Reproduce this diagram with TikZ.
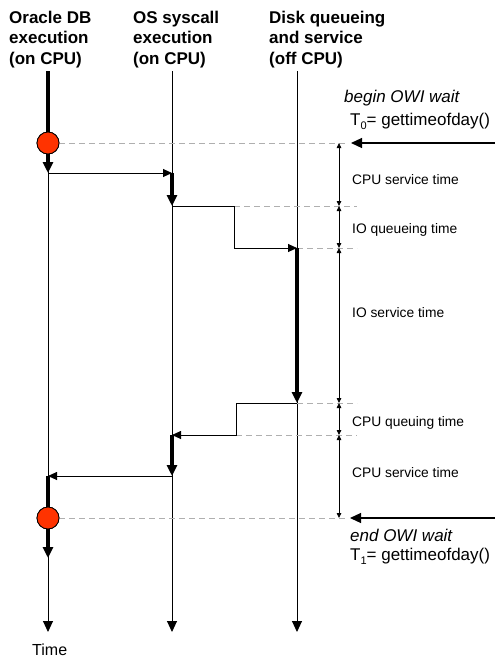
\documentclass[tikz,border=0pt]{standalone}
\usepackage{fontspec}
\setmainfont{Liberation Sans}
\usetikzlibrary{arrows.meta}
\definecolor{dotred}{RGB}{255,51,0}
\definecolor{dashgray}{RGB}{175,175,175}
\newcommand{\lowsub}[1]{\raisebox{-0.45ex}{\fontsize{11}{11}\selectfont #1}}
\begin{document}
\begin{tikzpicture}[x=1pt,y=-1pt,
  thinln/.style={line width=0.9pt, black},
  thickln/.style={line width=3.6pt, black},
  bighead/.style={-{Triangle[length=11pt,width=10pt]}},
  midhead/.style={-{Triangle[length=9pt,width=8pt]}},
  dimln/.style={line width=0.8pt, {Triangle[length=5pt,width=4.5pt]}-{Triangle[length=5pt,width=4.5pt]}},
  guide/.style={line width=0.9pt, dashgray, dash pattern=on 6pt off 4pt},
  heading/.style={font=\fontsize{17}{20.7}\selectfont\bfseries, align=left, anchor=base west, inner sep=0pt},
  bigtxt/.style={font=\fontsize{17}{20}\selectfont, anchor=base west, inner sep=0pt},
  smalltxt/.style={font=\fontsize{13.8}{16}\selectfont, anchor=base west, inner sep=0pt},
  event/.style={circle, draw=black, line width=0.8pt, fill=dotred, minimum size=22pt, inner sep=0pt}
]
\useasboundingbox (0,0) rectangle (495,659);

% headings (base anchor sits on the last line)
\node[heading] (hA) at (9,64.4) {Oracle DB\\execution\\(on CPU)};
\node[heading] (hB) at (133,64.4) {OS syscall\\execution\\(on CPU)};
\node[heading] (hC) at (269,64.4) {Disk queueing\\and service\\(off CPU)};

% lane coordinates
\coordinate (Atop) at (48,71);   \coordinate (Abot) at (48,632);
\coordinate (Btop) at (172,71);  \coordinate (Bbot) at (172,632);
\coordinate (Ctop) at (297,71);  \coordinate (Cbot) at (297,632);

% thin time lines
\draw[thinln, bighead] (Atop) -- (Abot);
\draw[thinln, bighead] (Btop) -- (Bbot);
\draw[thinln, bighead] (Ctop) -- (Cbot);

% key points
\coordinate (A1) at (48,173);
\coordinate (B1) at (172,173);
\coordinate (B1e) at (172,206);
\coordinate (S1) at (234,206);
\coordinate (S2) at (234,248);
\coordinate (C1) at (297,248);
\coordinate (C1e) at (297,403);
\coordinate (S3) at (236,403);
\coordinate (S4) at (236,435);
\coordinate (B2) at (172,435);
\coordinate (B2e) at (172,476);
\coordinate (A2) at (48,476);
\coordinate (A2e) at (48,558);

% dashed guides
\node[event] (ev0) at (48,143) {};
\node[event] (ev1) at (48,518) {};
\coordinate (g0) at (345,143);
\coordinate (g1) at (357,206);
\coordinate (g2) at (357,248);
\coordinate (g3) at (357,403);
\coordinate (g4) at (357,435);
\coordinate (g5) at (345,518);
\draw[guide] (ev0.east) -- (g0);
\draw[guide] (S1) -- (g1);
\draw[guide] (C1) -- (g2);
\draw[guide] (C1e) -- (g3);
\draw[guide] (S4) -- (g4);
\draw[guide] (ev1.east) -- (g5);

% thick execution segments
\draw[thickln, bighead] (Atop) -- (A1);
\draw[thinln, midhead] (A1) -- (B1);
\draw[thickln, bighead] (B1) -- (B1e);
\draw[thinln, midhead] (B1e) -- (S1) -- (S2) -- (C1);
\draw[thickln, bighead] (C1) -- (C1e);
\draw[thinln, midhead] (C1e) -- (S3) -- (S4) -- (B2);
\draw[thickln, bighead] (B2) -- (B2e);
\draw[thinln, midhead] (B2e) -- (A2);
\draw[thickln, bighead] (A2) -- (A2e);
\node[event] at (ev0) {};
\node[event] at (ev1) {};

% dimension lines
\coordinate (d0) at (339,143);
\coordinate (d1) at (339,206);
\coordinate (d2) at (339,248);
\coordinate (d3) at (339,403);
\coordinate (d4) at (339,435);
\coordinate (d5) at (339,518);
\draw[dimln] (d0) -- (d1);
\draw[dimln] (d1) -- (d2);
\draw[dimln] (d2) -- (d3);
\draw[dimln] (d3) -- (d4);
\draw[dimln] (d4) -- (d5);

% begin / end arrows
\coordinate (r0) at (495,143);
\coordinate (e0) at (351,143);
\coordinate (r1) at (495,518);
\coordinate (e1) at (350,518);
\draw[line width=1.2pt, bighead] (r0) -- (e0);
\draw[line width=1.2pt, bighead] (r1) -- (e1);

% labels
\node[bigtxt] (lb0) at (344,102) {\itshape begin OWI wait};
\node[bigtxt] (lt0) at (350,125) {T\lowsub{0}= gettimeofday()};
\node[bigtxt] (lb1) at (350,541) {\itshape end OWI wait};
\node[bigtxt] (lt1) at (350,560) {T\lowsub{1}= gettimeofday()};

\node[smalltxt] (s1) at (352,184) {CPU service time};
\node[smalltxt] (s2) at (352,233) {IO queueing time};
\node[smalltxt] (s3) at (352,317) {IO service time};
\node[smalltxt] (s4) at (352,426) {CPU queuing time};
\node[smalltxt] (s5) at (352,477) {CPU service time};

\node[font=\fontsize{16}{18}\selectfont, anchor=base west, inner sep=0pt] (time) at (32,655) {Time};
\end{tikzpicture}
\end{document}
